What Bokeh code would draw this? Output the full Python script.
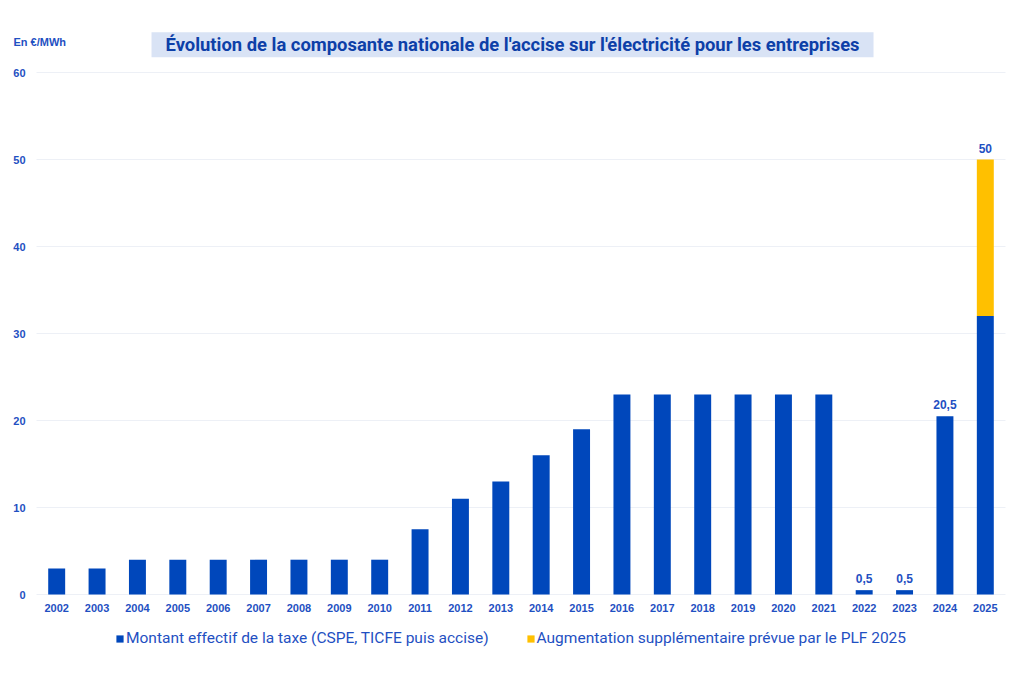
from bokeh.plotting import figure
from bokeh.models import ColumnDataSource, Legend, LegendItem, Label, Range1d, FixedTicker
from bokeh.core.properties import value
from bokeh.embed import file_html
from bokeh.resources import INLINE

# Data (€/MWh)
years = [str(y) for y in range(2002, 2026)]
montant_effectif = [3, 3, 4, 4, 4, 4, 4, 4, 4, 7.5, 11, 13, 16, 19,
                    23, 23, 23, 23, 23, 23, 0.5, 0.5, 20.5, 32]
augmentation_plf = [0] * 23 + [18]
value_labels = [""] * 20 + ["0,5", "0,5", "20,5", "50"]
y_ticks = [0, 10, 20, 30, 40, 50, 60]

BLUE = "#0047BB"
YELLOW = "#FFC000"
TEXT_BLUE = "#1F50C2"
TITLE_BLUE = "#0D3FA8"
GRID = "#EDF0F6"

# Geometry of the drawing area (pixels)
SLOT = 969 / len(years)          # width of one year slot
LEFT_PX, RIGHT_PX = 36, 19       # free space left/right of the year slots
FRAME_H = 650
BASELINE_PX = 594                # distance from top to the zero line
PX_PER_UNIT = 8.7

pos = list(range(len(years)))
totals = [a + b for a, b in zip(montant_effectif, augmentation_plf)]
src = ColumnDataSource(dict(x=pos, effectif=montant_effectif,
                            plf=augmentation_plf, total=totals,
                            label=value_labels))

x_range = Range1d(-0.5 - LEFT_PX / SLOT, len(years) - 0.5 + RIGHT_PX / SLOT)
y_range = Range1d(-(FRAME_H - BASELINE_PX) / PX_PER_UNIT, BASELINE_PX / PX_PER_UNIT)
p = figure(x_range=x_range, y_range=y_range,
           frame_width=1024, frame_height=FRAME_H, y_axis_location=None,
           output_backend="svg", toolbar_location=None,
           min_border_left=0, min_border_right=0,
           min_border_top=0, min_border_bottom=0,
           outline_line_color=None, background_fill_color="white",
           border_fill_color="white")
p.grid.visible = False

# horizontal guide lines across the year slots
p.segment(x0=-0.5, x1=len(years) - 0.5, y0=y_ticks, y1=y_ticks,
          line_color=GRID, line_width=1)

stack = p.vbar_stack(["effectif", "plf"], x="x", width=0.42,
                     color=[BLUE, YELLOW], line_color=None, source=src)

p.text(x="x", y="total", text="label", source=src,
       text_align="center", text_baseline="bottom", y_offset=-7,
       text_font=value("Liberation Sans"), text_font_size="12px",
       text_font_style="bold", text_color=TEXT_BLUE)

# value scale on the left
p.text(x=[-0.5] * len(y_ticks), y=y_ticks, text=[str(t) for t in y_ticks],
       x_offset=-11, text_align="right", text_baseline="middle",
       text_font=value("Liberation Sans"), text_font_size="11px",
       text_font_style="bold", text_color=TEXT_BLUE)

# year axis, drawn along the zero line
p.xaxis.fixed_location = 0
p.xaxis.ticker = FixedTicker(ticks=pos)
p.xaxis.major_label_overrides = {i: y for i, y in zip(pos, years)}
p.xaxis.axis_line_color = None
p.xaxis.major_tick_line_color = None
p.xaxis.minor_tick_line_color = None
p.xaxis.major_label_standoff = 3
p.xaxis.major_label_text_font = "Liberation Sans"
p.xaxis.major_label_text_font_size = "11px"
p.xaxis.major_label_text_font_style = "bold"
p.xaxis.major_label_text_color = TEXT_BLUE

# Heading and unit
p.add_layout(Label(x=11.29, y=63.2, text="Évolution de la composante nationale de l'accise sur l'électricité pour les entreprises",
                   text_align="center", text_baseline="middle",
                   text_font="Roboto", text_font_size="18.4px", text_font_style="bold",
                   text_color=TITLE_BLUE, background_fill_color="#D9E3F5",
                   padding=(14, 2)))
p.add_layout(Label(x=-0.5, y=63.45, x_offset=-23, text="En €/MWh", text_align="left",
                   text_baseline="middle", text_font="Liberation Sans",
                   text_font_size="11px", text_font_style="bold",
                   text_color=TEXT_BLUE))

legend = Legend(items=[
    LegendItem(label="Montant effectif de la taxe (CSPE, TICFE puis accise)", renderers=[stack[0]]),
    LegendItem(label="Augmentation supplémentaire prévue par le PLF 2025", renderers=[stack[1]]),
], orientation="horizontal", location=(115, 3), glyph_width=9, glyph_height=9,
   label_standoff=2, spacing=37, padding=0, margin=0,
   label_text_font="Roboto", label_text_font_size="15.5px",
   label_text_color=TEXT_BLUE, border_line_color=None,
   background_fill_alpha=0)
p.add_layout(legend)

open("out.html", "w").write(file_html(p, INLINE))
